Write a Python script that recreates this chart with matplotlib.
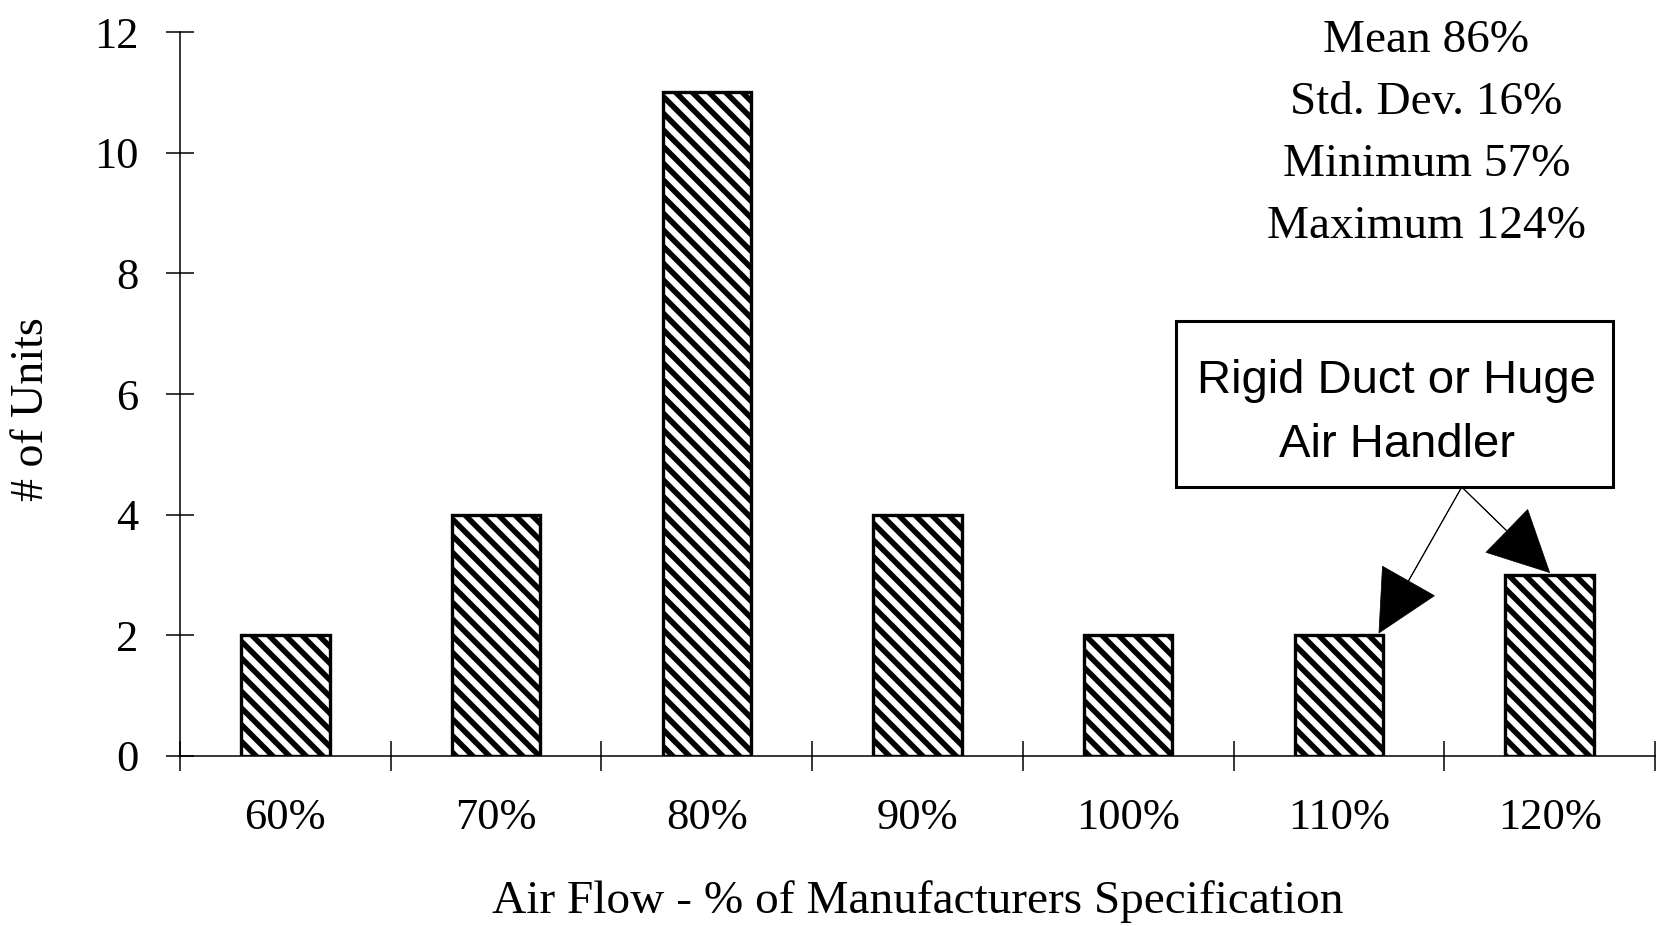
import matplotlib
matplotlib.use("Agg")
import matplotlib.pyplot as plt
from matplotlib.patches import Rectangle

# data
categories = ["60%", "70%", "80%", "90%", "100%", "110%", "120%"]
units = [2, 4, 11, 4, 2, 2, 3]
stats_lines = ["Mean 86%", "Std. Dev. 16%", "Minimum 57%", "Maximum 124%"]
note_lines = ["Rigid Duct or Huge", "Air Handler"]
note_targets = [5, 6]  # bars the callout points at

plt.rcParams["font.family"] = ["Liberation Serif", "DejaVu Serif"]
plt.rcParams["hatch.linewidth"] = 4.0


def plot():
    fig = plt.figure(figsize=(16.67, 9.26), dpi=100)
    ax = fig.add_axes([0.108, 0.1836, 0.8848, 0.7818])

    x = list(range(len(categories)))
    ax.bar(x, units, width=0.42, color="white", edgecolor="black",
           linewidth=2.4, hatch="\\\\")

    ax.set_xlim(-0.5, len(categories) - 0.5)
    ax.set_ylim(0, 12)
    ax.set_yticks(range(0, 13, 2))

    # boundary ticks, labels sit between them
    ax.set_xticks([i - 0.5 for i in range(len(categories) + 1)])
    ax.set_xticklabels([])
    ax.set_xticks(x, minor=True)
    ax.set_xticklabels(categories, minor=True)
    ax.tick_params(axis="x", which="major", direction="inout", length=21, width=1.1)
    ax.tick_params(axis="x", which="minor", length=0, pad=30, labelsize=32)
    ax.tick_params(axis="y", direction="inout", length=20, width=1.1, pad=20,
                   labelsize=32)

    for side in ("top", "right"):
        ax.spines[side].set_visible(False)
    for side in ("left", "bottom"):
        ax.spines[side].set_linewidth(1.1)

    ax.set_xlabel("Air Flow - % of Manufacturers Specification", fontsize=34)
    ax.xaxis.set_label_coords(0.5, -0.172)
    ax.set_ylabel("# of Units", fontsize=33)
    ax.yaxis.set_label_coords(-0.086, 0.479)

    for i, line in enumerate(stats_lines):
        ax.text(0.845, 0.972 - i * 0.0857, line, transform=ax.transAxes,
                ha="center", va="baseline", fontsize=34)

    # callout box with arrows
    ax.add_patch(Rectangle((0.675, 0.3715), 0.2965, 0.2293, transform=ax.transAxes,
                           facecolor="white", edgecolor="black", linewidth=2.2,
                           zorder=3))
    for i, line in enumerate(note_lines):
        ax.text(0.825, 0.5014 - i * 0.0884, line, transform=ax.transAxes,
                ha="center", va="baseline", fontsize=34,
                family=["Liberation Sans", "DejaVu Sans"], zorder=4)

    tip_x = [note_targets[0] + 0.19, note_targets[1]]
    for tx, bar in zip(tip_x, note_targets):
        ax.annotate("", xy=(tx, units[bar] + 0.04), xycoords="data",
                    xytext=(0.869, 0.3715), textcoords="axes fraction",
                    arrowprops=dict(width=0.4, headwidth=43, headlength=43,
                                    facecolor="black", edgecolor="black",
                                    linewidth=0.5, shrink=0))

    fig.savefig("out.png", dpi=100)


if __name__ == "__main__":
    plot()
